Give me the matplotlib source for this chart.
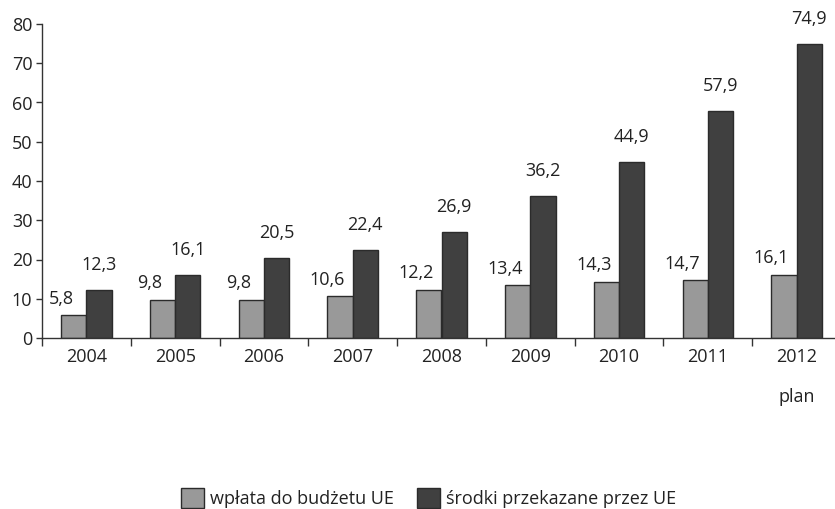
import matplotlib
matplotlib.use('Agg')
import matplotlib.pyplot as plt
import numpy as np

plt.rcParams['font.family'] = ['Open Sans', 'DejaVu Sans']

years = ['2004', '2005', '2006', '2007', '2008', '2009', '2010', '2011', '2012']
wplata = [5.8, 9.8, 9.8, 10.6, 12.2, 13.4, 14.3, 14.7, 16.1]
srodki = [12.3, 16.1, 20.5, 22.4, 26.9, 36.2, 44.9, 57.9, 74.9]
series_names = ['wpłata do budżetu UE', 'środki przekazane przez UE']

fig = plt.figure(figsize=(8.35, 5.09), dpi=100)
ax = fig.add_axes([42 / 835, 1 - 338 / 509, 799 / 835, 314 / 509])

x = np.arange(len(years))
w = 0.285
edge = '#2b2b2b'
fs = 13
tc = '#222222'
b1 = ax.bar(x - w / 2, wplata, w, color='#999999', edgecolor=edge, linewidth=1)
b2 = ax.bar(x + w / 2, srodki, w, color='#404040', edgecolor=edge, linewidth=1)

def fmt(v):
    return ('%.1f' % v).replace('.', ',')

for xi, v in zip(x, wplata):
    ax.annotate(fmt(v), (xi - w / 2, v), xytext=(-9, 12), textcoords='offset points',
                ha='center', va='center', fontsize=fs, color=tc)
for xi, v in zip(x, srodki):
    ax.annotate(fmt(v), (xi + w / 2, v), xytext=(0, 18), textcoords='offset points',
                ha='center', va='center', fontsize=fs, color=tc)

ax.set_xlim(-0.5, len(years) - 0.5)
ax.set_ylim(0, 80)
ax.set_yticks(range(0, 81, 10))

# boundary ticks (marks only) and centred year labels
ax.set_xticks(np.arange(len(years)) - 0.5)
ax.set_xticklabels([])
ax.set_xticks(x, minor=True)
ax.set_xticklabels(years, minor=True)
ax.tick_params(axis='x', which='major', length=6, width=1, color='#333333', direction='out')
ax.tick_params(axis='x', which='minor', length=0, pad=7, labelsize=fs, labelcolor=tc)
ax.tick_params(axis='y', length=4, width=1, color='#333333', direction='out',
               labelsize=fs, labelcolor=tc, pad=3)

ax.text(x[-1], -15, 'plan', ha='center', va='center', fontsize=fs, color=tc)

for s in ['top', 'right']:
    ax.spines[s].set_visible(False)
for s in ['left', 'bottom']:
    ax.spines[s].set_color('#333333')
    ax.spines[s].set_linewidth(1)

fig.legend([b1, b2], series_names, loc='lower center', bbox_to_anchor=(0.513, -0.03),
           ncol=2, frameon=False, fontsize=fs, handlelength=1.3, handleheight=1.3,
           handletextpad=0.3, columnspacing=1.3, labelcolor=tc)

fig.savefig('out.png', dpi=100)
